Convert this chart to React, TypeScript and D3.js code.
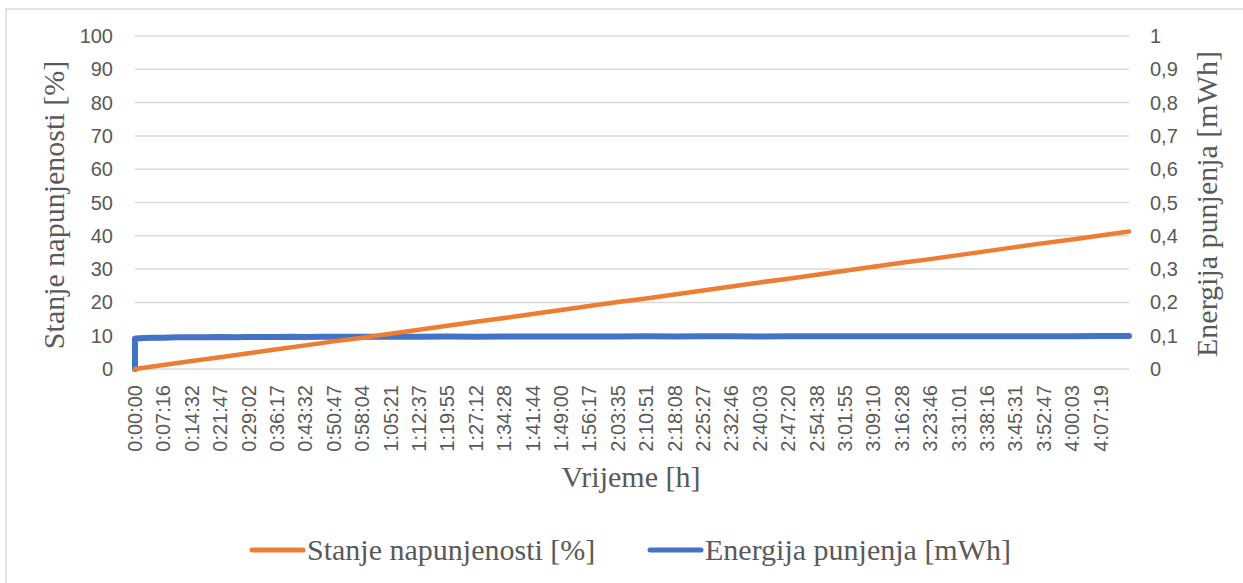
import React from 'react';
import * as d3 from 'd3';

// Category tick labels (every ~7 min 16 s of logged samples)
const timeLabels = [
  '0:00:00', '0:07:16', '0:14:32', '0:21:47', '0:29:02', '0:36:17', '0:43:32', '0:50:47',
  '0:58:04', '1:05:21', '1:12:37', '1:19:55', '1:27:12', '1:34:28', '1:41:44', '1:49:00',
  '1:56:17', '2:03:35', '2:10:51', '2:18:08', '2:25:27', '2:32:46', '2:40:03', '2:47:20',
  '2:54:38', '3:01:55', '3:09:10', '3:16:28', '3:23:46', '3:31:01', '3:38:16', '3:45:31',
  '3:52:47', '4:00:03', '4:07:19',
];

// Position (in label steps) and value of the state-of-charge series [%]
const socIndex = [0, 1, 2, 3, 4, 5, 6, 7, 8, 9, 10, 11, 12, 13, 14, 15, 16, 17, 18, 19, 20,
  21, 22, 23, 24, 25, 26, 27, 28, 29, 30, 31, 32, 33, 34, 35];
const socValues = [0, 1.2, 2.4, 3.5, 4.7, 5.9, 7.1, 8.3, 9.4, 10.6, 11.8, 13.0, 14.2, 15.3,
  16.5, 17.7, 18.9, 20.1, 21.2, 22.4, 23.6, 24.8, 26.0, 27.1, 28.3, 29.5, 30.7, 31.9, 33.0,
  34.2, 35.4, 36.6, 37.8, 38.9, 40.1, 41.3];

// Position (in label steps) and value of the charging energy series [mWh]
const energyIndex = [0, 0, 0.3, 0.7, 1, 1.5, 2, 2.5, 3, 3.5, 4, 4.5, 5, 5.5, 6, 6.5, 7, 7.5,
  8, 8.5, 9, 9.5, 10, 11, 12, 13, 14, 15, 16, 17, 18, 19, 20, 21, 22, 23, 24, 25, 26, 27,
  28, 29, 30, 31, 32, 33, 34, 35];
const energyValues = [0, 0.091, 0.093, 0.094, 0.094, 0.095, 0.095, 0.095, 0.096, 0.095,
  0.096, 0.096, 0.096, 0.0965, 0.096, 0.0965, 0.0965, 0.097, 0.0965, 0.097, 0.097, 0.097,
  0.0972, 0.0975, 0.0972, 0.0975, 0.0975, 0.0978, 0.0975, 0.0978, 0.098, 0.0978, 0.098,
  0.098, 0.0978, 0.098, 0.098, 0.0982, 0.098, 0.0982, 0.0982, 0.0985, 0.0982, 0.0985,
  0.0985, 0.0985, 0.0988, 0.0988];

const leftTicks = [0, 10, 20, 30, 40, 50, 60, 70, 80, 90, 100];
const rightTicks = [0, 0.1, 0.2, 0.3, 0.4, 0.5, 0.6, 0.7, 0.8, 0.9, 1];

const ORANGE = '#ED7D31';
const BLUE = '#4472C4';
const GRID = '#d9d9d9';
const TEXT = '#595959';
const SANS = '"Liberation Sans", Arial, sans-serif';
const SERIF = '"Liberation Serif", "Times New Roman", serif';

export default function App() {
  const W = 1243;
  const H = 583;
  const x = d3.scaleLinear().domain([0, 35]).range([135, 1129]);
  const yL = d3.scaleLinear().domain([0, 100]).range([369, 36]);
  const yR = d3.scaleLinear().domain([0, 1]).range([369, 36]);

  const socLine = d3.line<number>()
    .x((_, i) => x(socIndex[i]))
    .y((d) => yL(d));
  const energyLine = d3.line<number>()
    .x((_, i) => x(energyIndex[i]))
    .y((d) => yR(d));

  return (
    <svg width={W} height={H} style={{ position: 'absolute', left: 0, top: 0, background: '#fff' }}>
      <rect x={6} y={9} width={W} height={H} fill="#fff" stroke={GRID} strokeWidth={1.5} />
      {leftTicks.map((t) => (
        <line key={'g' + t} x1={135} x2={1129} y1={yL(t)} y2={yL(t)} stroke={GRID} strokeWidth={1.5} />
      ))}
      {leftTicks.map((t) => (
        <text key={'l' + t} x={113} y={yL(t)} textAnchor="end" dominantBaseline="central"
          fontFamily={SANS} fontSize={20} fill={TEXT}>{t}</text>
      ))}
      {rightTicks.map((t) => (
        <text key={'r' + t} x={1150} y={yR(t)} textAnchor="start" dominantBaseline="central"
          fontFamily={SANS} fontSize={20} fill={TEXT}>{String(+t.toFixed(1)).replace('.', ',')}</text>
      ))}
      {timeLabels.map((lab, i) => (
        <text key={lab} transform={`translate(${x(i)},385) rotate(-90)`} textAnchor="end"
          dominantBaseline="central" fontFamily={SANS} fontSize={20} fill={TEXT}>{lab}</text>
      ))}
      <path d={energyLine(energyValues) || ''} fill="none" stroke={BLUE} strokeWidth={6}
        strokeLinejoin="round" strokeLinecap="round" />
      <path d={socLine(socValues) || ''} fill="none" stroke={ORANGE} strokeWidth={4.5}
        strokeLinejoin="round" strokeLinecap="round" />
      <text transform="translate(64,205) rotate(-90)" textAnchor="middle" fontFamily={SERIF}
        fontSize={30} fill={TEXT}>Stanje napunjenosti [%]</text>
      <text transform="translate(1217,204) rotate(-90)" textAnchor="middle" fontFamily={SERIF}
        fontSize={30} fill={TEXT}>Energija punjenja [mWh]</text>
      <text x={631} y={487} textAnchor="middle" fontFamily={SERIF} fontSize={30} fill={TEXT}>Vrijeme [h]</text>
      <line x1={252} x2={303} y1={550} y2={550} stroke={ORANGE} strokeWidth={5} strokeLinecap="round" />
      <text x={307} y={560} fontFamily={SERIF} fontSize={30} fill={TEXT}>Stanje napunjenosti [%]</text>
      <line x1={650} x2={701} y1={550} y2={550} stroke={BLUE} strokeWidth={5} strokeLinecap="round" />
      <text x={705} y={560} fontFamily={SERIF} fontSize={30} fill={TEXT}>Energija punjenja [mWh]</text>
    </svg>
  );
}
